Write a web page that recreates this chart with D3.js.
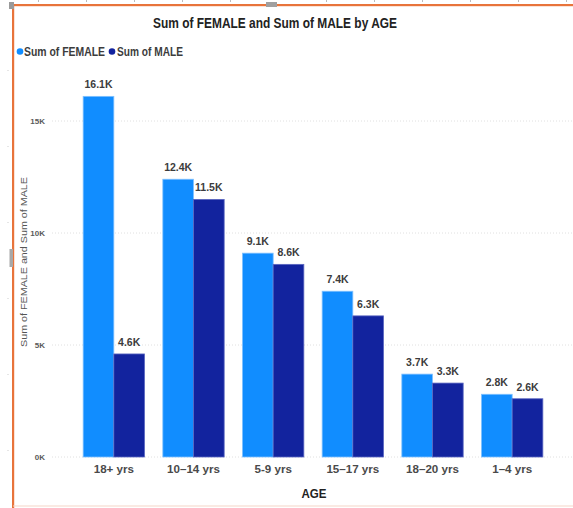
<!DOCTYPE html>
<html>
<head>
<meta charset="utf-8">
<script src="https://cdn.jsdelivr.net/npm/d3@7"></script>
<style>
  html, body { margin: 0; padding: 0; background: #fff; }
  svg { display: block; }
  text { font-family: "Liberation Sans", Arial, sans-serif; }
</style>
</head>
<body>
<svg id="chart" width="573" height="508"></svg>
<script>
// Age groups and head counts by sex
const ageGroups = ["18+ yrs", "10\u201314 yrs", "5-9 yrs", "15\u201317 yrs", "18\u201320 yrs", "1\u20134 yrs"];
const femaleValues = [16100, 12400, 9100, 7400, 3700, 2800];
const maleValues = [4600, 11500, 8600, 6300, 3300, 2600];
const seriesNames = ["Sum of FEMALE", "Sum of MALE"];
const yTicks = [0, 5000, 10000, 15000];

const colors = { "Sum of FEMALE": "#118DFF", "Sum of MALE": "#12239E" };

const svg = d3.select("#chart");

// Report-canvas frame: selection border, resize handles and ruler marks
const frame = svg.append("g");
frame.append("rect").attr("x", 12).attr("y", 4).attr("width", 561).attr("height", 2.2).attr("fill", "#E8743B");
frame.append("rect").attr("x", 12).attr("y", 4).attr("width", 2.2).attr("height", 504).attr("fill", "#E8743B");
frame.append("rect").attr("x", 13).attr("y", 505.5).attr("width", 560).attr("height", 1).attr("fill", "#F6D5C8");
frame.append("rect").attr("x", 9).attr("y", 2).attr("width", 5).attr("height", 7).attr("fill", "#9A9A9A");
frame.append("rect").attr("x", 266).attr("y", 2).attr("width", 11).attr("height", 5).attr("fill", "#A0A0A0");
frame.append("rect").attr("x", 9.5).attr("y", 249).attr("width", 3.5).attr("height", 18).attr("fill", "#A8A8A8");
d3.range(38, 573, 48).forEach(x => {
  if (Math.abs(x - 277) > 8)
    frame.append("rect").attr("x", x).attr("y", 0).attr("width", 1).attr("height", 2).attr("fill", "#BBB");
});
d3.range(70, 508, 76).forEach(y => {
  frame.append("rect").attr("x", 7.5).attr("y", y).attr("width", 1).attr("height", 1).attr("fill", "#CCC");
});

// Scales
const x0 = d3.scaleBand().domain(ageGroups).range([74, 552]).paddingInner(0.23).paddingOuter(0.115);
const x1 = d3.scaleBand().domain(seriesNames).range([0, x0.bandwidth()]).padding(0);
const y = d3.scaleLinear().domain([0, 15000]).range([457, 121]);

// Gridlines
svg.append("g").selectAll("line").data(yTicks).join("line")
  .attr("x1", 52).attr("x2", 573)
  .attr("y1", d => y(d)).attr("y2", d => y(d))
  .attr("stroke", "#E0E0E0").attr("stroke-width", 1).attr("stroke-dasharray", "1,2");

// Y axis tick labels
const yAxis = d3.axisLeft(y).tickValues(yTicks).tickFormat(d => (d / 1000) + "K").tickSize(0).tickPadding(0);
const yg = svg.append("g").attr("transform", "translate(45,0)").call(yAxis);
yg.select(".domain").remove();
yg.selectAll("text").attr("font-size", 8).attr("font-weight", "bold").attr("fill", "#5a5a5a")
  .attr("font-family", "'Liberation Sans', Arial, sans-serif");

// Y axis title
svg.append("text")
  .attr("transform", "translate(27,262) rotate(-90)")
  .attr("text-anchor", "middle")
  .attr("font-size", 8.5).attr("fill", "#555")
  .attr("textLength", 170).attr("lengthAdjust", "spacingAndGlyphs")
  .text("Sum of FEMALE and Sum of MALE");

// Bars
const rows = ageGroups.map((g, i) => ({
  group: g,
  items: [
    { key: "Sum of FEMALE", value: femaleValues[i] },
    { key: "Sum of MALE", value: maleValues[i] }
  ]
}));

const groups = svg.append("g").selectAll("g").data(rows).join("g")
  .attr("transform", d => `translate(${x0(d.group)},0)`);

groups.selectAll("rect").data(d => d.items).join("rect")
  .attr("x", d => x1(d.key))
  .attr("y", d => y(d.value))
  .attr("width", x1.bandwidth())
  .attr("height", d => y(0) - y(d.value))
  .attr("fill", d => colors[d.key])
  .attr("stroke", d => d.key === "Sum of FEMALE" ? "#7FC0FF" : "#5A66C0")
  .attr("stroke-width", 0.8);

// Data labels
groups.selectAll("text").data(d => d.items).join("text")
  .attr("x", d => x1(d.key) + x1.bandwidth() / 2)
  .attr("y", d => y(d.value) - 8)
  .attr("text-anchor", "middle")
  .attr("font-size", 10.5).attr("font-weight", "bold").attr("fill", "#3c3c3c")
  .text(d => (d.value / 1000).toFixed(1) + "K");

// X axis labels
const xAxis = d3.axisBottom(x0).tickSize(0).tickPadding(0);
const xg = svg.append("g").attr("transform", "translate(0,465)").call(xAxis);
xg.select(".domain").remove();
xg.selectAll("text").attr("font-size", 11.6).attr("font-weight", "bold").attr("fill", "#4a4a4a")
  .attr("font-family", "'Liberation Sans', Arial, sans-serif")
  .attr("dy", "0.71em");

// X axis title
svg.append("text")
  .attr("x", 314).attr("y", 498)
  .attr("text-anchor", "middle")
  .attr("font-size", 13).attr("font-weight", "bold").attr("fill", "#222")
  .attr("textLength", 25).attr("lengthAdjust", "spacingAndGlyphs")
  .text("AGE");

// Title
svg.append("text")
  .attr("x", 275).attr("y", 28)
  .attr("text-anchor", "middle")
  .attr("font-size", 14).attr("font-weight", "bold").attr("fill", "#222")
  .attr("textLength", 244).attr("lengthAdjust", "spacingAndGlyphs")
  .text("Sum of FEMALE and Sum of MALE by AGE");

// Legend
const legendItems = [
  { name: seriesNames[0], cx: 20, tx: 24, w: 81 },
  { name: seriesNames[1], cx: 112, tx: 117, w: 66 }
];
const legend = svg.append("g");
legend.selectAll("circle").data(legendItems).join("circle")
  .attr("cx", d => d.cx).attr("cy", 51.5).attr("r", 3.3)
  .attr("fill", d => colors[d.name]);
legend.selectAll("text").data(legendItems).join("text")
  .attr("x", d => d.tx).attr("y", 56)
  .attr("font-size", 12).attr("font-weight", "bold").attr("fill", "#3c3c3c")
  .attr("textLength", d => d.w).attr("lengthAdjust", "spacingAndGlyphs")
  .text(d => d.name);
</script>
</body>
</html>
